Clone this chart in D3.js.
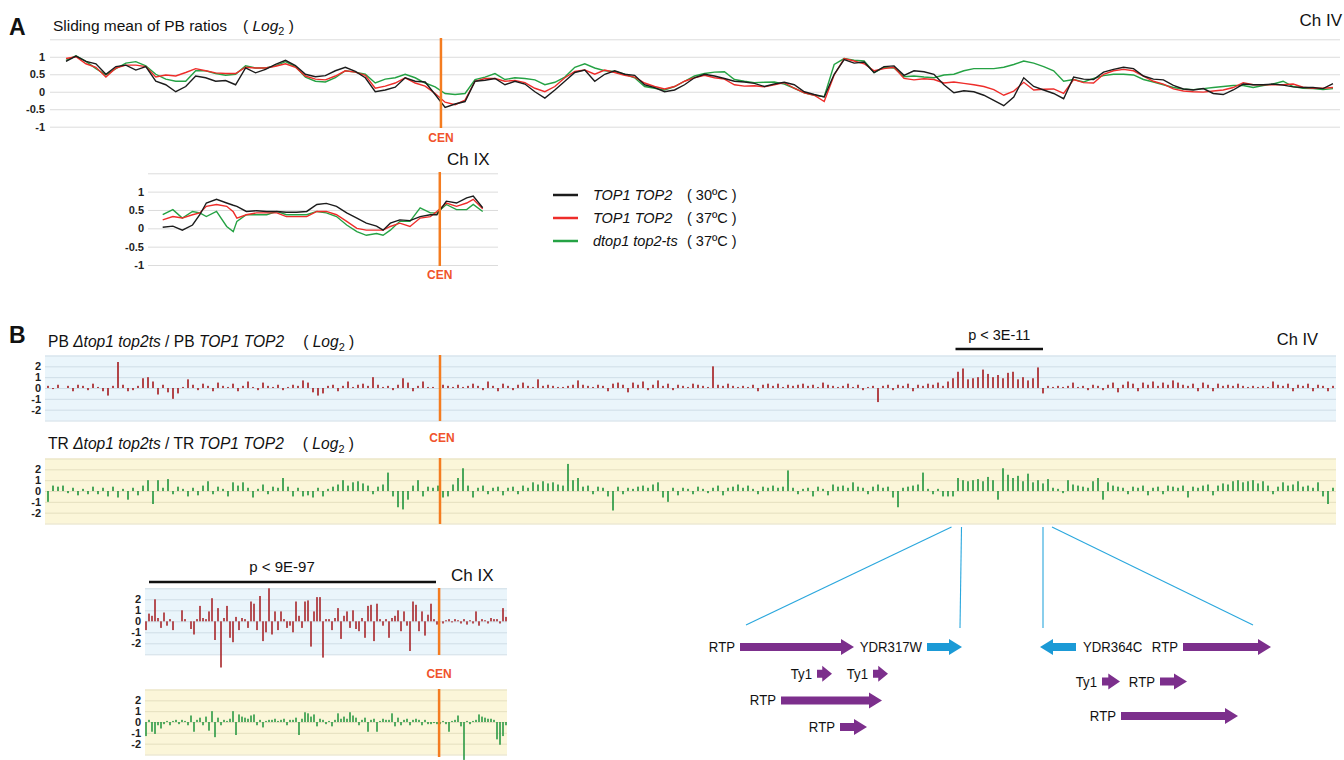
<!DOCTYPE html>
<html>
<head>
<meta charset="utf-8">
<script src="https://cdn.jsdelivr.net/npm/d3@7"></script>
<style>
  body { margin: 0; background: #fff; }
  svg { display: block; font-family: "Liberation Sans", Arial, Helvetica, sans-serif; }
</style>
</head>
<body>
<svg id="fig" width="1344" height="760"></svg>
<script>
/////////////////////////////////////////////////////////
// data
/////////////////////////////////////////////////////////

// A: sliding mean of PB ratios, Ch IV (one window every 12 kb)
const ch4Step = 12
const ch4CenKb = 451
const ch4Top1Top2At30 = [
  .87,1.02,.87,.8,.5,.72,.76,.62,.72,.3, .2,0,.15,.45,.4,.3,.32,.2,.68,.54,
  .64,.78,.9,.75,.5,.43,.46,.6,.7,.58, .4,0,.05,.13,.4,.3,.28,-.08,-.45,-.35,
  -.28,.3,.33,.38,.2,.3,.22,0,-.18,.05, .3,.55,.62,.3,.5,.6,.5,.47,.2,.12,
  0,.05,.2,.4,.5,.45,.38,.3,.28,.24, .15,.22,.27,.2,0,-.08,-.15,.5,.92,.82,
  .85,.55,.72,.74,.47,.6,.57,.5,.2,-.03, .03,0,-.1,-.25,-.4,-.15,.4,.15,.05,-.05,
  -.2,.42,.36,.35,.56,.64,.7,.66,.45,.36, .34,.18,.08,.05,.09,-.05,-.08,.05,.22,.2,
  .2,.22,.19,.14,.12,.12,.09,.23
]
const ch4Top1Top2At37 = [
  .95,1.0,.8,.7,.42,.68,.76,.76,.72,.42, .48,.45,.55,.66,.6,.54,.52,.52,.7,.68,
  .68,.73,.8,.7,.45,.36,.34,.45,.6,.56, .47,.1,.16,.25,.4,.25,.16,-.05,-.3,-.37,
  -.24,.3,.38,.38,.3,.32,.26,.1,0,.15, .4,.58,.62,.5,.62,.55,.47,.42,.25,.15,
  .08,.15,.3,.4,.47,.4,.36,.2,.16,.17, .14,.2,.26,.1,-.03,-.1,-.28,.48,.95,.88,
  .8,.6,.66,.7,.38,.34,.37,.35,.25,.28, .24,.2,.15,.06,-.1,.02,.27,.05,.07,.08,
  -.05,.35,.26,.25,.5,.6,.64,.6,.45,.3, .22,.08,.02,0,-.01,.02,.05,.12,.26,.2,
  .2,.2,.2,.22,.13,.1,.1,.12
]
const ch4Dtop1Top2tsAt37 = [
  .9,1.03,.87,.66,.48,.66,.82,.86,.74,.5, .36,.3,.3,.6,.6,.52,.47,.5,.74,.68,
  .68,.74,.86,.72,.42,.3,.28,.4,.6,.56, .5,.25,.36,.4,.5,.4,.25,.14,-.05,-.08,
  -.05,.35,.42,.52,.35,.4,.38,.34,.2,.27, .42,.7,.8,.68,.6,.58,.5,.4,.15,.1,
  .05,.15,.3,.45,.52,.56,.57,.35,.3,.26, .27,.28,.22,.1,-.03,-.1,-.14,.78,.95,.9,
  .88,.55,.7,.68,.43,.45,.42,.4,.48,.5, .6,.66,.66,.66,.7,.78,.88,.82,.72,.6,
  .3,.35,.28,.38,.46,.5,.5,.48,.35,.28, .2,.12,.08,.06,.09,.12,.15,.18,.18,.12,
  .18,.22,.3,.15,.1,.09,.06,.09
]

// A: sliding mean of PB ratios, Ch IX
const ch9Kb = [0,14,27,41,51,60,74,88,97,102,115,129,143,157,170,184,198,212,225,239,
  253,267,280,294,303,313,326,340,354,368,377,390,404,418,427,440]
const ch9CenKb = 381
const ch9Top1Top2At30 = [.03,.06,-.05,.09,.37,.69,.79,.69,.63,.6, .46,.48,.46,.46,.44,.44,.46,.65,.68,.6,
  .42,.28,.14,.06,-.05,.14,.23,.21,.32,.37, .37,.74,.69,.83,.88,.56]
const ch9Top1Top2At37 = [.23,.32,.28,.37,.42,.6,.65,.6,.45,.28, .37,.42,.42,.42,.32,.32,.32,.46,.46,.37,
  .19,0,-.05,-.05,-.05,.05,.14,.05,.28,.32, .46,.69,.6,.69,.79,.53]
const ch9Dtop1Top2tsAt37 = [.37,.51,.28,.46,.42,.32,.46,.05,-.09,.19, .37,.37,.37,.46,.37,.37,.37,.46,.42,.32,
  .09,-.09,-.19,-.14,-.19,-.05,.19,.19,.56,.42, .42,.65,.51,.51,.65,.46]

const legendNames = ["TOP1 TOP2", "TOP1 TOP2", "dtop1 top2-ts"]
const legendTemps = ["( 30ºC )", "( 37ºC )", "( 37ºC )"]
const seriesColors = ["#1c1c1c", "#ee2d2a", "#25a244"]

const ticksA = [-1, -0.5, 0, 0.5, 1]
const gridA = [-1, -0.5, 0, 0.5, 1, 1.5]
const ticksB = [-2, -1, 0, 1, 2]
const gridB = [-3, -2, -1, 0, 1, 2, 3]

// B: log2 ratios per bin, Ch IV
const ch4CenBin = 78.4
const hotspotBins = [181.5, 199]
const pbCh4 = [
  .2,-.1,.3,0,.2,-.3,.3,.2,-.2,.4, .1,-.3,-.7,.2,2.4,.3,-.3,-.2,.2,.9,
  1.0,.6,-.6,.3,-.4,-1.0,-.5,.1,.8,.3, -.2,.4,.2,-.3,.5,.2,.1,.4,-.3,.2,
  .6,.1,-.2,.5,.2,.1,.3,-.2,.1,.3, .2,.7,.5,-.4,-.7,-.5,.2,.3,-.3,.2,
  .6,.1,.3,.4,.2,1.0,.3,.1,.2,-.2, .3,.9,.5,-.3,.2,.6,.1,.1,0,.3,
  .2,.1,.3,.1,.2,.4,.2,-.2,.6,.2, -.3,.4,.2,-.2,.3,.5,.2,.1,.8,.2,
  .3,.2,.1,.1,.2,.3,.7,.3,.2,.1, .3,.2,-.3,.4,.5,.3,-.4,.5,.3,.6,
  -.2,.3,.7,.2,.4,-.2,.3,.2,.1,.4, .3,.2,.1,2.0,.3,.2,.4,.2,.1,.2,
  .1,.3,-.3,.3,.4,.2,.4,.1,.3,.2, .3,.4,.2,.3,.1,.5,.3,.2,.1,.2,
  .4,.1,.3,-.2,.1,.2,-1.3,.2,.3,-.2, .3,.2,.4,-.3,.3,.2,.4,.3,.5,.2,
  .6,.9,1.5,1.8,.8,.9,1.0,1.7,1.3,1.0, 1.2,.9,1.4,1.5,.8,1.0,.7,.9,1.9,-.5,
  .2,.1,.2,.1,.2,.5,.1,.2,-.2,.3, .2,-.2,.3,.5,-.4,.3,.6,.4,-.3,.5,
  .3,.6,.2,.5,.3,.7,.5,.3,.2,.4, -.3,.5,.3,-.3,.4,.2,.3,.2,.4,.2,
  .1,.2,.1,.2,.1,.6,.3,.2,.4,-.3, .3,.2,.4,-.3,.3,.2,-.3,.2
]
const trCh4 = [
  -1.0,.5,.4,.5,-.2,.3,-.4,.2,-.3,.4, -.3,.3,-.5,.4,-.6,.2,-.8,.3,-.4,.5,
  1.0,-1.2,1.0,.3,1.1,-.3,.4,.2,-.5,.3, -.4,.5,.9,-.3,.4,.2,-.5,.8,.5,.8,
  .3,-.6,.2,.6,-.3,.4,.3,1.2,.4,-.5, .3,-.5,-.4,-.6,.3,-.5,.2,.4,.6,1.0,
  .5,.8,.9,.7,.5,-.3,.4,.6,1.7,-.5, -1.5,-1.7,-.8,.5,1.0,-.5,.4,.3,.5,-.6,
  -.5,.6,1.2,2.1,.5,-.6,.3,.5,-.3,.3, .4,-.4,.3,.4,-.3,.5,.3,.8,.6,.9,
  .7,.8,.6,.5,2.5,1.0,1.2,.4,.5,-.3, .4,.3,-.5,-1.8,.4,-.3,.3,.2,.4,.5,
  .3,.6,.8,-.6,-1.0,.3,-.4,.3,.2,-.3, .4,.2,-.2,.3,.5,-.4,.3,.4,.6,.3,
  .5,.2,-.3,.4,.3,.5,.3,.4,1.9,.3, -.3,.2,.3,-.5,.4,.2,-.4,.6,.4,.5,
  .3,.8,.4,.3,-.3,.4,.6,.3,.4,-.6, -1.5,.3,.4,.5,.6,1.7,.2,-.3,.2,-.5,
  -.5,-.5,1.2,1.0,.9,1.0,1.1,.9,1.3,1.0, -.8,2.1,1.5,1.2,1.4,.9,1.6,.8,1.0,.7,
  1.1,.3,.2,-.2,1.0,.6,.5,.4,.3,.9, 1.2,-.8,.8,.5,.4,.3,-.3,.4,.3,.5,
  -.4,.3,.4,-.3,.5,.4,.3,.5,-.6,.4, .3,.5,.6,-.4,.5,.7,.6,.9,1.0,.8,
  .9,1.0,.7,.9,.5,-.3,.4,.8,.5,.6, .9,.4,.5,.3,.8,-.5,-1.2,.3
]

// B: log2 ratios per bin, Ch IX
const ch9CenBin = 97.7
const pbCh9 = [
  -.8,.7,.5,2.0,.3,-.6,.8,-.4,.2,-.8, 0,0,1.0,.2,0,-.7,-1.2,.2,1.4,.3,
  .2,.9,2.1,-1.7,1.2,-4.2,.3,1.4,-1.5,-1.9, .4,-.8,.3,.2,-.6,1.8,1.6,-.8,2.3,-1.8,
  -1.0,3.0,-1.2,.9,-.8,.9,.2,-.6,-.4,-1.0, 1.8,.5,-.6,1.8,1.9,-2.3,.9,2.2,2.2,-3.3,
  .2,.2,-.8,.3,1.2,-1.6,.5,.9,-.6,1.0, -.7,-.9,.3,-1.5,1.4,1.5,-1.8,1.6,.2,-.4,
  .2,-1.5,.3,.5,1.0,-.9,.9,-.4,-2.7,1.8, 1.5,-.9,.9,-1.3,.6,1.6,.2,-.3,0,-.2,
  .1,.2,-.1,.2,.1,-.2,.2,-.3,.1,-.2, .9,-.4,.2,.1,-.2,.3,.2,.2,-.2,1.2,
  .4
]
const trCh9 = [
  -1.3,.2,-.9,-1.1,-.3,-.6,-.2,.1,-.3,.1, .2,-.2,.2,.1,-.3,.6,-.9,.2,.4,-.3,
  .5,-.8,1.0,-1.4,.4,-.3,.2,.1,.3,1.0, -1.2,.7,.5,.4,.3,.6,.7,-.3,.2,-.5,
  .1,.2,.2,.3,.1,.2,.3,-.3,.2,.2, .4,-1.2,.3,.9,.8,.5,.7,-.4,.3,.2,
  -.2,.1,-.4,.2,.8,.3,.5,.3,.9,.6, .4,-.3,.2,.4,-.9,.2,.3,-.9,.1,.3,
  .2,.2,.8,-.4,.4,-.3,.2,.3,-.3,.2, .3,.2,-.3,.2,-.2,-.2,-.1,-.2,-.2,.1,
  -.2,-.9,.1,.2,.6,-.4,-3.5,.1,-.2,.1, .2,.7,.5,.4,.3,.3,.2,-1.6,-2.1,-1.3,
  -.3
]

// B: features around the Ch IV hotspot (kb from each window's start)
const leftGenes = [
  {name: "RTP", start: 0, end: 11.4, lane: 0, strand: 1, kind: "rtp"},
  {name: "YDR317W", start: 18.7, end: 22.2, lane: 0, strand: 1, kind: "orf"},
  {name: "Ty1", start: 7.7, end: 9.2, lane: 1, strand: 1, kind: "rtp"},
  {name: "Ty1", start: 13.3, end: 14.8, lane: 1, strand: 1, kind: "rtp"},
  {name: "RTP", start: 4.1, end: 14.2, lane: 2, strand: 1, kind: "rtp"},
  {name: "RTP", start: 10.0, end: 12.7, lane: 3, strand: 1, kind: "rtp"}
]
const rightGenes = [
  {name: "YDR364C", start: 0, end: 3.6, lane: 0, strand: -1, kind: "orf"},
  {name: "RTP", start: 14.3, end: 23.1, lane: 0, strand: 1, kind: "rtp"},
  {name: "Ty1", start: 6.2, end: 8.0, lane: 1, strand: 1, kind: "rtp"},
  {name: "RTP", start: 12.0, end: 14.7, lane: 1, strand: 1, kind: "rtp"},
  {name: "RTP", start: 8.1, end: 19.8, lane: 2, strand: 1, kind: "rtp"}
]

/////////////////////////////////////////////////////////
// helpers
/////////////////////////////////////////////////////////
const svg = d3.select("#fig")
const CEN_LINE = "#f47c20", CEN_TEXT = "#f0532c"
const GENE_COLORS = {rtp: "#7c2f8c", orf: "#1b9ad6"}

function text (g, x, y, s, size, opts = {}) {
  return g.append("text")
    .attr("x", x).attr("y", y)
    .attr("font-size", size)
    .attr("font-weight", opts.weight || "normal")
    .attr("font-style", opts.style || "normal")
    .attr("text-anchor", opts.anchor || "start")
    .attr("fill", opts.fill || "#111")
    .text(s)
}

// "( Log2 )" label
function logLabel (g, x, y, size) {
  const t = g.append("text").attr("x", x).attr("y", y).attr("font-size", size).attr("fill", "#111")
  t.append("tspan").text("( ")
  t.append("tspan").attr("font-style", "italic").text("Log")
  t.append("tspan").attr("font-size", size * 0.7).attr("dy", 4).text("2")
  t.append("tspan").attr("dy", -4).text(" )")
}

function gridAndTicks (g, y, x0, x1, grid, ticks, pad, gridColor, tickSize) {
  g.append("g")
    .attr("transform", `translate(${x0},0)`)
    .call(d3.axisLeft(y).tickValues(grid).tickSize(-(x1 - x0)).tickFormat(""))
    .call(a => a.select(".domain").remove())
    .call(a => a.selectAll("line").attr("stroke", gridColor).attr("stroke-width", 1))

  g.append("g")
    .attr("transform", `translate(${x0},0)`)
    .call(d3.axisLeft(y).tickValues(ticks).tickSize(0).tickPadding(pad).tickFormat(d => String(d)))
    .call(a => a.select(".domain").remove())
    .call(a => a.selectAll("text")
      .attr("font-family", null).attr("font-size", tickSize)
      .attr("font-weight", "bold").attr("fill", "#222"))
}

function cenLine (g, x, y0, y1) {
  g.append("line").attr("x1", x).attr("x2", x).attr("y1", y0).attr("y2", y1)
    .attr("stroke", CEN_LINE).attr("stroke-width", 2.5)
}

function cenText (g, x, y) {
  text(g, x, y, "CEN", 12, {weight: "bold", anchor: "middle", fill: CEN_TEXT})
}

function band (g, x0, x1, y, fill, gridColor) {
  g.append("rect").attr("x", x0).attr("y", y(3))
    .attr("width", x1 - x0).attr("height", y(-3) - y(3)).attr("fill", fill)
  gridAndTicks(g, y, x0, x1, gridB, ticksB, 4, gridColor, 11)
}

function bars (g, data, x, y, color, w) {
  g.append("g").selectAll("rect")
    .data(data.map((v, i) => ({v, i})).filter(d => d.v !== 0))
    .join("rect")
      .attr("x", d => x(d.i) - w / 2)
      .attr("y", d => Math.min(y(0), y(d.v)))
      .attr("width", w)
      .attr("height", d => Math.max(0.8, Math.abs(y(d.v) - y(0))))
      .attr("fill", color)
}

function arrowPath (x0, x1, yc, strand) {
  const sh = 4, hh = 8
  const hl = Math.min(13, (x1 - x0) * 0.65)
  if (strand > 0) {
    return `M${x0},${yc - sh}L${x1 - hl},${yc - sh}L${x1 - hl},${yc - hh}L${x1},${yc}` +
           `L${x1 - hl},${yc + hh}L${x1 - hl},${yc + sh}L${x0},${yc + sh}Z`
  }
  return `M${x1},${yc - sh}L${x0 + hl},${yc - sh}L${x0 + hl},${yc - hh}L${x0},${yc}` +
         `L${x0 + hl},${yc + hh}L${x0 + hl},${yc + sh}L${x1},${yc + sh}Z`
}

function genes (g, list, gx, laneY0, laneStep) {
  list.forEach(d => {
    const yc = laneY0 + d.lane * laneStep
    const x0 = gx(d.start), x1 = gx(d.end)
    g.append("path").attr("d", arrowPath(x0, x1, yc, d.strand)).attr("fill", GENE_COLORS[d.kind])
    const lx = d.strand > 0 ? x0 - 5 : x1 + 7
    g.append("text")
      .attr("transform", `translate(${lx},${yc + 5}) scale(0.88,1)`)
      .attr("font-size", 15)
      .attr("text-anchor", d.strand > 0 ? "end" : "start")
      .attr("fill", "#111")
      .text(d.name)
  })
}

/////////////////////////////////////////////////////////
// panel A
/////////////////////////////////////////////////////////
const gA = svg.append("g")
text(gA, 9, 35, "A", 23, {weight: "bold"})
text(gA, 53, 31, "Sliding mean of PB ratios", 15.5)
logLabel(gA, 243, 31, 15.5)
text(gA, 1342, 26, "Ch IV", 17, {anchor: "end"})

const xA = d3.scaleLinear().domain([0, (ch4Top1Top2At30.length - 1) * ch4Step]).range([66, 1333])
const yA = d3.scaleLinear().domain([-1, 1.5]).range([126.7, 39.3])
gridAndTicks(gA, yA, 50, 1340, gridA, ticksA, 5, "#dcdcdc", 11)

const lineA = d3.line().x((d, i) => xA(i * ch4Step)).y(d => yA(d))
const ch4Series = [ch4Top1Top2At30, ch4Top1Top2At37, ch4Dtop1Top2tsAt37]
;[2, 1, 0].forEach(k => {
  gA.append("path").attr("d", lineA(ch4Series[k]))
    .attr("fill", "none").attr("stroke", seriesColors[k]).attr("stroke-width", 1.4)
})
cenLine(gA, xA(ch4CenKb), 38, 128)
cenText(gA, xA(ch4CenKb), 142)

// Ch IX inset
const xA9 = d3.scaleLinear().domain([0, 440]).range([162.7, 482.7])
const yA9 = d3.scaleLinear().domain([-1, 1.5]).range([265, 173.3])
gridAndTicks(gA, yA9, 148, 498, gridA, ticksA, 4, "#dcdcdc", 11)
const lineA9 = d3.line().x((d, i) => xA9(ch9Kb[i])).y(d => yA9(d))
const ch9Series = [ch9Top1Top2At30, ch9Top1Top2At37, ch9Dtop1Top2tsAt37]
;[2, 1, 0].forEach(k => {
  gA.append("path").attr("d", lineA9(ch9Series[k]))
    .attr("fill", "none").attr("stroke", seriesColors[k]).attr("stroke-width", 1.4)
})
cenLine(gA, xA9(ch9CenKb), 172, 266)
cenText(gA, xA9(ch9CenKb), 279)
text(gA, 447, 165, "Ch IX", 17)

// legend
legendNames.forEach((name, k) => {
  const y = 195 + k * 23
  gA.append("line").attr("x1", 553).attr("x2", 578).attr("y1", y).attr("y2", y)
    .attr("stroke", seriesColors[k]).attr("stroke-width", 2.5)
  text(gA, 593, y + 5, name, 14.5, {style: "italic"})
  text(gA, 687, y + 5, legendTemps[k], 14.5)
})

/////////////////////////////////////////////////////////
// panel B
/////////////////////////////////////////////////////////
const gB = svg.append("g")
text(gB, 9, 343, "B", 23, {weight: "bold"})

function ratioTitle (g, x, y, tag) {
  const t = g.append("text").attr("x", x).attr("y", y).attr("font-size", 15.6).attr("fill", "#111")
  t.append("tspan").text(tag + " ")
  t.append("tspan").attr("font-style", "italic").text("Δtop1 top2ts")
  t.append("tspan").text(" / " + tag + " ")
  t.append("tspan").attr("font-style", "italic").text("TOP1 TOP2")
  const w = t.node().getComputedTextLength()
  logLabel(g, x + w + 19, y, 15.6)
}
ratioTitle(gB, 48, 347, "PB")
ratioTitle(gB, 48, 449, "TR")

const xB4 = d3.scaleLinear().domain([0, pbCh4.length - 1]).range([48, 1333])
const yPB = d3.scaleLinear().domain([-3, 3]).range([420.5, 355.5])
const yTR = d3.scaleLinear().domain([-3, 3]).range([523.5, 458.5])
band(gB, 45, 1336, yPB, "#eaf5fb", "#cfdde6")
band(gB, 45, 1336, yTR, "#fbf6d9", "#e4dfbf")
bars(gB, pbCh4, xB4, yPB, "#a9272b", 1.7)
bars(gB, trCh4, xB4, yTR, "#2c9a45", 1.7)
cenLine(gB, xB4(ch4CenBin), 355, 421)
cenLine(gB, xB4(ch4CenBin), 458, 524)
cenText(gB, xB4(ch4CenBin) + 2, 442)
text(gB, 1318, 345, "Ch IV", 16.5, {anchor: "end"})

// hotspot
const hx0 = xB4(hotspotBins[0]), hx1 = xB4(hotspotBins[1])
text(gB, (hx0 + hx1) / 2, 340, "p < 3E-11", 14.5, {anchor: "middle"})
gB.append("line").attr("x1", hx0).attr("x2", hx1).attr("y1", 349).attr("y2", 349)
  .attr("stroke", "#111").attr("stroke-width", 2.5)

// zoom-in connectors
const gxL = d3.scaleLinear().domain([0, 1]).range([740, 750])
const gxR = d3.scaleLinear().domain([0, 1]).range([1040, 1050])
const connectors = [
  [hx0 - 4, gxL(0.6), 625], [hx0 + 6, gxL(22), 628],
  [hx1, gxR(0.3), 628], [hx1 + 9, gxR(21.3), 625]
]
connectors.forEach(c => {
  gB.append("line").attr("x1", c[0]).attr("y1", 527).attr("x2", c[1]).attr("y2", c[2])
    .attr("stroke", "#2aa7dd").attr("stroke-width", 1.1)
})
genes(gB, leftGenes, gxL, 647, 26.7)
genes(gB, rightGenes, gxR, 647, 34.5)

// Ch IX
const xB9 = d3.scaleLinear().domain([0, pbCh9.length - 1]).range([146, 506])
const yPB9 = d3.scaleLinear().domain([-3, 3]).range([654.3, 588.3])
const yTR9 = d3.scaleLinear().domain([-3, 3]).range([754.5, 689.5])
band(gB, 145, 507, yPB9, "#eaf5fb", "#cfdde6")
band(gB, 145, 507, yTR9, "#fbf6d9", "#e4dfbf")
bars(gB, pbCh9, xB9, yPB9, "#a9272b", 1.6)
bars(gB, trCh9, xB9, yTR9, "#2c9a45", 1.6)
cenLine(gB, xB9(ch9CenBin), 588, 655)
cenLine(gB, xB9(ch9CenBin), 689, 757)
cenText(gB, xB9(ch9CenBin), 678)
text(gB, 282, 572, "p < 9E-97", 15, {anchor: "middle"})
gB.append("line").attr("x1", 149).attr("x2", 436).attr("y1", 582).attr("y2", 582)
  .attr("stroke", "#111").attr("stroke-width", 2.5)
text(gB, 451, 581, "Ch IX", 17)
</script>
</body>
</html>
